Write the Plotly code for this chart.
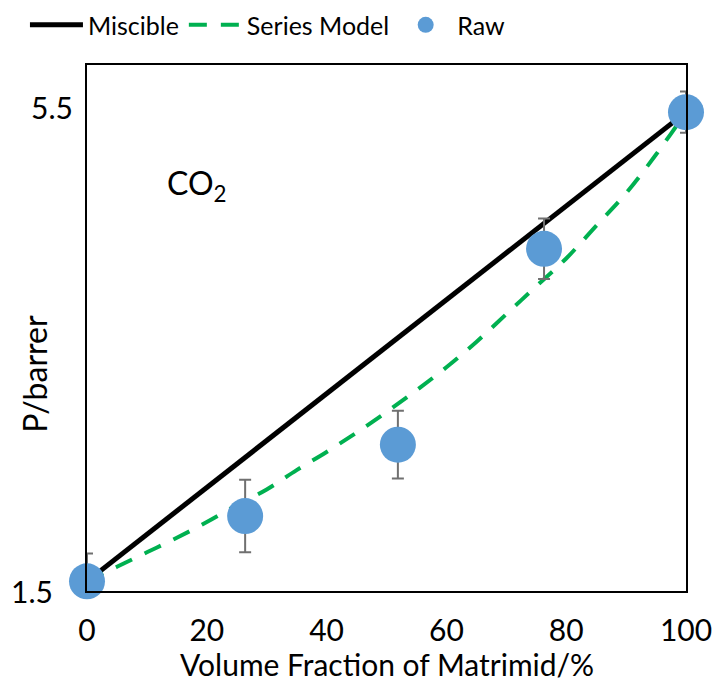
import plotly.graph_objects as go

# CO2 permeability vs. Matrimid volume fraction
frac_raw = [0, 26.4, 51.9, 76.3, 100]
perm_raw = [1.58, 2.12, 2.71, 4.33, 5.46]
perm_err = [0.23, 0.30, 0.28, 0.25, 0.17]

frac_miscible = [0, 100]
perm_miscible = [1.58, 5.46]

frac_series = [0, 5, 10, 15, 20, 25, 30, 35, 40, 45, 50,
               55, 60, 65, 70, 75, 80, 85, 90, 95, 100]
perm_series = [1.58, 1.70, 1.82, 1.94, 2.07, 2.21, 2.34, 2.50, 2.65, 2.81, 2.98,
               3.16, 3.35, 3.56, 3.79, 4.02, 4.25, 4.52, 4.79, 5.11, 5.46]

x_ticks = [0, 20, 40, 60, 80, 100]
y_ticks = [1.5, 5.5]

FONT = "Lato"
TICK_SIZE = 30
TITLE_SIZE = 32

fig = go.Figure()
fig.add_trace(go.Scatter(
    x=frac_miscible, y=perm_miscible, mode="lines", name="Miscible",
    line=dict(color="black", width=5), cliponaxis=False))
fig.add_trace(go.Scatter(
    x=frac_series, y=perm_series, mode="lines", name="Series Model",
    line=dict(color="#00B050", width=4, dash="18px,14px", shape="spline"),
    cliponaxis=False))
fig.add_trace(go.Scatter(
    x=frac_raw, y=perm_raw, mode="markers", name="Raw",
    marker=dict(color="#5B9BD5", size=36),
    error_y=dict(type="data", array=perm_err, visible=True,
                 color="#707070", thickness=2, width=6),
    cliponaxis=False))

fig.update_layout(
    width=713, height=683,
    margin=dict(l=87, r=27, t=65, b=92, autoexpand=False),
    paper_bgcolor="white", plot_bgcolor="white",
    font=dict(family=FONT, size=TICK_SIZE, color="black"),
    showlegend=True,
    legend=dict(orientation="h", xref="container", yref="container",
                x=0.035, y=0.997, xanchor="left", yanchor="top",
                itemwidth=53, font=dict(size=25), bgcolor="rgba(0,0,0,0)"),
)
fig.update_xaxes(
    range=[0, 100], tickvals=x_ticks, ticks="outside", ticklen=12,
    tickcolor="rgba(0,0,0,0)", showgrid=False, zeroline=False, automargin=False,
    ticklabeloverflow="allow",
    showline=True, linecolor="black", linewidth=2, mirror=True,
    tickfont=dict(size=TICK_SIZE))
fig.update_yaxes(
    range=[1.5, 5.85], tickvals=y_ticks, showticklabels=False, ticks="",
    showgrid=False, zeroline=False, automargin=False,
    showline=True, linecolor="black", linewidth=2, mirror=True)

# y tick labels
for val, xpos in zip(y_ticks, [-0.054, -0.02]):
    fig.add_annotation(x=xpos, y=val, xref="paper", yref="y", text=str(val),
                       showarrow=False, xanchor="right", yanchor="middle",
                       font=dict(size=TICK_SIZE))

# axis titles
fig.add_annotation(x=0.5, y=-0.1388, xref="paper", yref="paper",
                   text="Volume Fraction of Matrimid/%", borderpad=0,
                   showarrow=False, xanchor="center", yanchor="middle",
                   font=dict(size=30))
fig.add_annotation(x=-0.087, y=0.413, xref="paper", yref="paper", text="P/barrer",
                   textangle=-90, showarrow=False, xanchor="center", yanchor="middle",
                   font=dict(size=TITLE_SIZE))
fig.add_annotation(x=0.13, y=0.772, xref="paper", yref="paper", text="CO<sub>2</sub>",
                   showarrow=False, xanchor="left", yanchor="middle",
                   font=dict(size=TITLE_SIZE))

fig.write_html("out.html")
